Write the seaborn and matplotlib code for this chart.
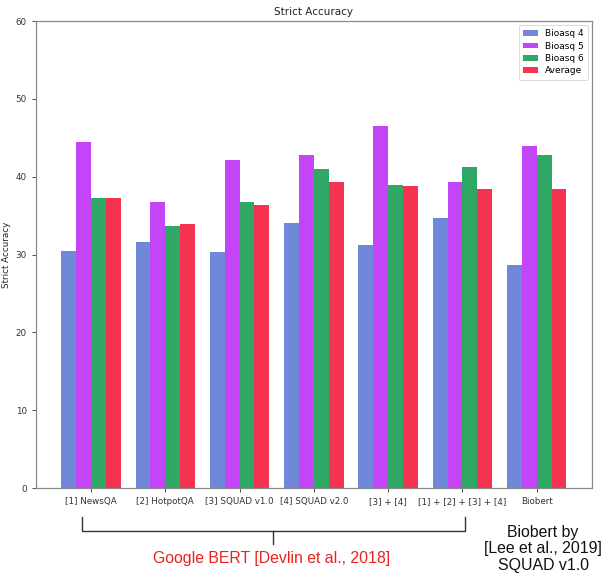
import matplotlib
matplotlib.use("Agg")
import matplotlib.pyplot as plt
import seaborn as sns
import pandas as pd
from matplotlib.lines import Line2D

categories = ["[1] NewsQA", "[2] HotpotQA", "[3] SQUAD v1.0", "[4] SQUAD v2.0",
              "[3] + [4]", "[1] + [2] + [3] + [4]", "Biobert"]
series_names = ["Bioasq 4", "Bioasq 5", "Bioasq 6", "Average"]
bioasq4 = [30.4, 31.6, 30.3, 34.0, 31.2, 34.7, 28.6]
bioasq5 = [44.5, 36.7, 42.1, 42.8, 46.5, 39.3, 44.0]
bioasq6 = [37.2, 33.6, 36.7, 41.0, 38.9, 41.3, 42.8]
average = [37.3, 33.9, 36.4, 39.3, 38.8, 38.4, 38.4]
colors = ["#7088DA", "#C444F7", "#2FA866", "#F43350"]

rows = []
for name, vals in zip(series_names, [bioasq4, bioasq5, bioasq6, average]):
    for c, v in zip(categories, vals):
        rows.append({"Dataset": c, "Series": name, "Value": v})
df = pd.DataFrame(rows)

plt.rcParams['font.family'] = ['DejaVu Sans']
fig = plt.figure(figsize=(6.05, 5.74), dpi=100)
ax = fig.add_axes([0.0595, 0.1498, 0.9185, 0.8136])

sns.barplot(data=df, x="Dataset", y="Value", hue="Series", order=categories,
            hue_order=series_names, palette=colors, saturation=1, width=0.8,
            errorbar=None, ax=ax, linewidth=0)

ax.set_ylim(0, 60)
ax.set_xlim(-0.74, 6.74)
ax.set_yticks([0, 10, 20, 30, 40, 50, 60])
ax.tick_params(axis='both', labelsize=6.3, length=3, width=0.6, colors='#333333')
ax.set_xlabel("")
ax.set_ylabel("Strict Accuracy", fontsize=6.3, color='#222222')
ax.yaxis.set_label_coords(-0.045, 0.5)
ax.set_title("Strict Accuracy", fontsize=7.5, color='#222222', pad=4)
for s in ax.spines.values():
    s.set_color('#8a8a8a')
    s.set_linewidth(0.9)
leg = ax.legend(loc='upper right', fontsize=6.5, frameon=True, handlelength=1.6,
                handleheight=0.6, handletextpad=0.8, borderpad=0.5, labelspacing=0.38,
                borderaxespad=0.4)
leg.get_frame().set_edgecolor('#cccccc')
leg.get_frame().set_linewidth(0.6)

# bracket annotation
W, H = 605.0, 574.0
def fx(x): return x / W
def fy(y): return 1 - y / H
lc = '#333333'
fig.add_artist(Line2D([fx(82), fx(82), fx(465), fx(465)],
                      [fy(517), fy(531), fy(531), fy(517)], color=lc, lw=1.0,
                      transform=fig.transFigure))
fig.add_artist(Line2D([fx(273), fx(273)], [fy(531), fy(544)], color=lc, lw=1.0,
                      transform=fig.transFigure))
fig.text(fx(272), fy(559), "Google BERT [Devlin et al., 2018]", color='#E8231F',
         fontsize=11.4, family=['Liberation Sans', 'DejaVu Sans'],
         ha='center', va='center')
fig.text(fx(543), fy(549), "Biobert by\n[Lee et al., 2019]\nSQUAD v1.0", color='#111111',
         fontsize=11.4, family=['Liberation Sans', 'DejaVu Sans'],
         ha='center', va='center', linespacing=1.1)

fig.savefig("out.png", dpi=100)
